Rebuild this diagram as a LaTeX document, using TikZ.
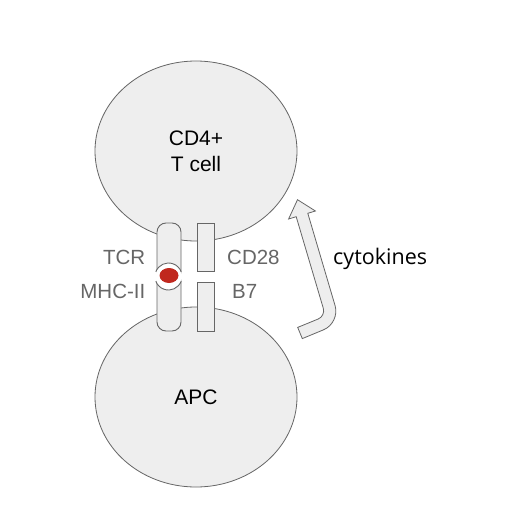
\documentclass[tikz,border=0pt]{standalone}
\usepackage{fontspec}
\setmainfont{Liberation Sans}
\newfontfamily\opensans{Open Sans}
\usetikzlibrary{shapes.geometric}
\definecolor{cellfill}{HTML}{EEEEEE}
\definecolor{edgegray}{HTML}{666666}
\definecolor{labgray}{HTML}{666666}
\definecolor{pepred}{HTML}{C0281E}
\begin{document}
\begin{tikzpicture}[x=1pt,y=-1pt,
  cell/.style={ellipse, draw=edgegray, fill=cellfill, line width=0.8pt, inner sep=0pt,
    minimum width=202pt, minimum height=180pt, align=center,
    font=\fontsize{21}{26}\selectfont},
  recbar/.style={draw=edgegray, fill=cellfill, line width=0.9pt, inner sep=0pt},
  lab/.style={inner sep=0pt, text=labgray, font=\fontsize{20.5}{24}\selectfont},
]
\useasboundingbox (0,0) rectangle (506,516);
\fill[white] (0,0) rectangle (506,516);
% cells
\node[cell] (tcell) at (196,151) {CD4+\\T cell};
\node[cell] (apc) at (196,397) {APC};
% receptors
\node[recbar, rounded corners=9pt, minimum width=24pt, minimum height=108pt] (tcr) at (169,277) {};
\node[recbar, minimum width=17pt, minimum height=48pt] (cd28) at (205.5,247) {};
\node[recbar, minimum width=17pt, minimum height=49pt] (b7) at (205.5,306.5) {};
% peptide ring
\coordinate (ring) at (168.5,276.5);
\fill[white] (ring) circle[radius=13.5];
\draw[edgegray, line width=0.9pt] ([shift={(200:13.5)}]ring) arc[start angle=200, end angle=340, radius=13.5];
\draw[edgegray, line width=0.9pt] ([shift={(20:13.5)}]ring) arc[start angle=20, end angle=160, radius=13.5];
\fill[pepred] (169,275.5) ellipse[x radius=9.5, y radius=7.5];
% labels
\node[lab, anchor=east] (tcrl) at (145.5,257.5) {TCR};
\node[lab, anchor=east] (mhcl) at (145.5,291.5) {MHC-II};
\node[lab, anchor=west] (cd28l) at (227,257.5) {CD28};
\node[lab, anchor=west] (b7l) at (232,291.5) {B7};
% cytokine arrow
\draw[edgegray, fill=cellfill, line width=0.8pt, line join=miter]
  (297.7,327.4) -- (318.2,319.0) .. controls (322.3,317.4) and (324.6,312.5) .. (323.3,308.3)
  -- (296.2,216.7) -- (288.6,219.0) -- (297.5,199.7) -- (315.4,211.0) -- (307.8,213.3)
  -- (335.1,305.7) .. controls (337.9,315.2) and (332.7,326.1) .. (323.55,329.8)
  -- (302.3,338.6) -- cycle;
\node[anchor=base west, inner sep=0pt, font=\opensans\fontsize{21.5}{26}\selectfont] (cyto) at (333,264) {cytokines};
\end{tikzpicture}
\end{document}
